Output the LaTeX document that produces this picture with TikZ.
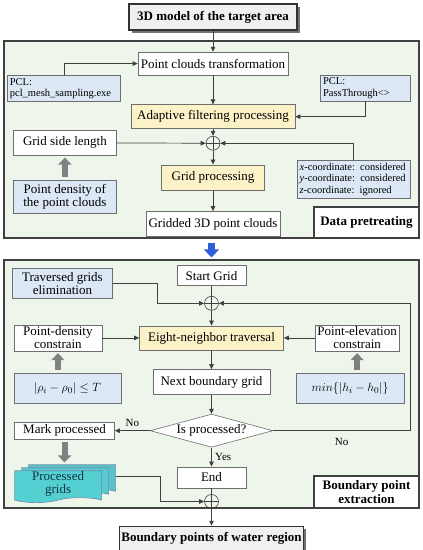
\documentclass[tikz,border=0pt]{standalone}
\usepackage{fontspec}
\setmainfont{Liberation Serif}
\usepackage{tikz}
\usetikzlibrary{positioning,arrows.meta,shapes.geometric,shapes.symbols,shadows}

\definecolor{panelgreen}{HTML}{EEF5EA}
\definecolor{noteblue}{HTML}{DCE8F6}
\definecolor{procyellow}{HTML}{FBF2C8}
\definecolor{edgegray}{HTML}{404040}
\definecolor{boxgray}{HTML}{6E6E6E}
\definecolor{gridteal}{HTML}{55D0D2}
\definecolor{gridedge}{HTML}{6F8FA8}
\definecolor{gridtext}{HTML}{0F3440}
\definecolor{flowblue}{HTML}{2F5FD8}

\begin{document}
\begin{tikzpicture}[
  x=1pt, y=-1pt,
  box/.style={rectangle, draw=boxgray, fill=white, line width=0.6pt, inner sep=1pt,
              align=center, font=\fontsize{13}{13}\selectfont},
  proc/.style={box, fill=procyellow},
  note/.style={box, fill=noteblue},
  pcl/.style={note, align=left, inner sep=2.5pt, font=\fontsize{10.5}{11.5}\selectfont},
  endbox/.style={box, draw=black!80, line width=1.5pt, fill=black!6, inner sep=2pt,
              font=\fontsize{13}{13}\selectfont\bfseries,
              drop shadow={shadow xshift=2.5pt, shadow yshift=-2.5pt, fill=black!55, opacity=1}},
  panel/.style={rectangle, draw=black!75, line width=1.2pt, fill=panelgreen},
  tag/.style={box, draw=black!75, line width=1.2pt, inner sep=2pt,
              font=\fontsize{13}{14}\selectfont\bfseries},
  decide/.style={diamond, draw=boxgray, fill=white, line width=0.6pt, aspect=3.7,
              inner sep=1pt, align=center, font=\fontsize{13}{13}\selectfont},
  sheet/.style={tape, tape bend top=none, tape bend height=5pt, draw=gridedge, fill=gridteal,
              line width=0.6pt, minimum width=87pt, minimum height=29pt, inner sep=1pt,
              align=center, font=\fontsize{13}{13}\selectfont},
  sum/.style={circle, draw=edgegray, line width=0.6pt, minimum size=14pt, inner sep=0pt,
              path picture={\draw[edgegray, line width=0.6pt]
                (path picture bounding box.north) -- (path picture bounding box.south)
                (path picture bounding box.west) -- (path picture bounding box.east);}},
  flow/.style={draw=edgegray, line width=0.7pt},
  fat/.style={draw=black!50, line width=6pt, -{Triangle[width=13pt,length=7pt]},
              shorten <=3pt, shorten >=2pt},
  small/.style={font=\fontsize{11}{11}\selectfont},
  >={Triangle[length=5pt,width=4.5pt]}
]
  \useasboundingbox (0,0) rectangle (423,550);

  \node[panel, minimum width=415pt, minimum height=197pt] (pre) at (211.5,139.5) {};
  \node[panel, minimum width=415pt, minimum height=248pt] (ext) at (211.5,384) {};
  \node[tag, anchor=south east, minimum width=105pt, minimum height=31pt] (pretag) at (pre.south east) {Data pretreating};
  \node[tag, anchor=south east, minimum width=105pt, minimum height=32pt] (exttag) at (ext.south east) {Boundary point\\extraction};

  \node[endbox, minimum width=168pt, minimum height=26pt] (model) at (213,17) {3D model of the target area};
  \node[box, minimum width=150pt, minimum height=23pt, below=21pt of model] (pct) {Point clouds transformation};
  \node[pcl, text width=108pt, minimum height=26pt, below left=0pt and 17pt of pct] (mesh) {PCL:\\pcl\_mesh\_sampling.exe};
  \node[proc, minimum width=164pt, minimum height=24pt, below=29pt of pct] (filt) {Adaptive filtering processing};
  \node[pcl, text width=85pt, minimum height=25pt, above right=3pt and 25pt of filt] (pass) {PCL:\\PassThrough<>};
  \node[sum, below=7pt of filt] (sumA) {};
  \node[box, minimum width=103pt, minimum height=25pt, below left=1pt and 14pt of filt] (side) {Grid side length};
  \node[note, minimum width=103pt, minimum height=33pt, below=24pt of side] (dens) {Point density of\\the point clouds};
  \node[proc, minimum width=103pt, minimum height=25pt, below=14pt of sumA] (grid) {Grid processing};
  \node[pcl, text width=108pt, right=32pt of grid, yshift=-2pt] (coord) {\textit{x}-coordinate: considered\\\textit{y}-coordinate: considered\\\textit{z}-coordinate: ignored};
  \node[box, minimum width=134pt, minimum height=25pt, below=21pt of grid] (gridded) {Gridded 3D point clouds};

  \node[box, minimum width=69pt, minimum height=20pt, below=6pt of ext.north] (start) {Start Grid};
  \node[note, minimum width=100pt, minimum height=30pt, left=64pt of start, yshift=-8pt] (elim) {Traversed grids\\elimination};
  \node[sum, below=10pt of start] (sumB) {};
  \node[proc, minimum width=144pt, minimum height=24pt, below=15pt of sumB] (eight) {Eight-neighbor traversal};
  \node[box, minimum width=88pt, minimum height=26pt, left=37pt of eight] (dcon) {Point-density\\constrain};
  \node[box, minimum width=84pt, minimum height=26pt, right=31pt of eight] (econ) {Point-elevation\\constrain};
  \node[note, minimum width=107pt, minimum height=30pt, below right=22pt and 0pt of dcon.south west] (drule) {$|\rho_i-\rho_0|\le T$};
  \node[note, minimum width=108pt, minimum height=30pt, below=22pt of econ, xshift=-7pt] (erule) {$min\{|h_i-h_0|\}$};
  \node[box, minimum width=117pt, minimum height=25pt, below=19pt of eight] (next) {Next boundary grid};
  \node[decide, below=19pt of next] (check) {Is processed?};
  \node[box, minimum width=100pt, minimum height=17pt, left=35pt of check] (mark) {Mark processed};
  \node[sheet, fill=gridteal!80!gridedge, below right=25pt and 14pt of mark.south west] (back) {};
  \node[sheet, fill=gridteal!90!gridedge, below right=28pt and 7pt of mark.south west] (middle) {};
  \node[sheet, text=gridtext, below right=31pt and 0pt of mark.south west] (done) {Processed\\grids};
  \node[box, minimum width=69pt, minimum height=21pt, below=19pt of check] (stop) {End};
  \node[sum, below=6pt of stop] (sumC) {};
  \node[endbox, minimum width=181pt, minimum height=24pt, below=17pt of sumC] (water) {Boundary points of water region};

  \draw[flow,->] (model) -- (pct);
  \draw[flow,->] (mesh.north) |- (pct);
  \draw[flow,->] (pct) -- (filt);
  \draw[flow,->] (pass.south) |- (filt);
  \draw[flow,->] (filt) -- (sumA);
  \draw[flow,->] (side) -- (sumA);
  \draw[flow,->] (coord.north) |- (sumA);
  \draw[flow,->] (sumA) -- (grid);
  \draw[flow,->] (grid) -- (gridded);
  \draw[fat] (dens) -- (side);
  \draw[line width=7pt, flowblue, -{Triangle[width=15pt,length=8pt]}, shorten <=4pt, shorten >=2pt] (pre) -- (ext);

  \draw[flow] (start) -- (sumB);
  \draw[flow,->] (elim.east) -- ++(45pt,0) |- (sumB);
  \draw[flow,->] (sumB) -- (eight);
  \draw[flow,->] (dcon) -- (eight);
  \draw[flow,->] (econ) -- (eight);
  \draw[fat] (dcon.south |- drule.north) -- (dcon.south);
  \draw[fat] (econ.south |- erule.north) -- (econ.south);
  \draw[flow,->] (eight) -- (next);
  \draw[flow,->] (next) -- (check);
  \draw[flow,->] (check) -- node[small, above]{No} (mark);
  \draw[flow,->] (check) -- node[small, right]{Yes} (stop);
  \draw[flow,->] (check.east) -- ++(137pt,0) node[small, midway, below=4pt]{No} |- (sumB);
  \draw[fat] (mark) -- (mark.south |- back.north);
  \draw[flow,->] (back.east) -- ++(44pt,0) |- (sumC);
  \draw[flow] (stop) -- (sumC);
  \draw[flow,->] (sumC) -- (water);
\end{tikzpicture}
\end{document}
